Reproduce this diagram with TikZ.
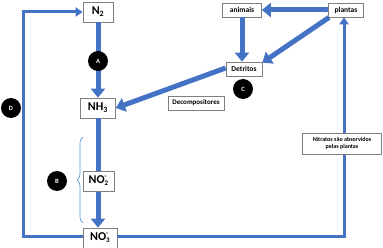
\documentclass[tikz,border=0pt]{standalone}
\usepackage{fontspec}
\setmainfont{Carlito}
\usetikzlibrary{arrows.meta,decorations.pathreplacing}
\definecolor{flow}{HTML}{4472C4}
\definecolor{bracecol}{HTML}{5B9BD5}
\definecolor{edge}{HTML}{7F7F7F}
\newcommand{\chemion}[2]{NO\makebox[0pt][l]{\raisebox{0.9ex}{\scriptsize -}}\raisebox{-0.35ex}{\scriptsize #1}#2}
\begin{document}
\begin{tikzpicture}[x=1pt,y=-1pt,
  box/.style={draw=edge,fill=white,line width=0.7pt,inner sep=0pt,font=\bfseries},
  chem/.style={box,minimum height=20pt,font=\bfseries\fontsize{12}{13}\selectfont},
  lab/.style={box,minimum height=14pt,font=\bfseries\fontsize{7.5}{8}\selectfont},
  tag/.style={circle,fill=black,text=white,minimum size=20pt,inner sep=0pt,font=\bfseries\fontsize{6.5}{7}\selectfont},
  bigarrow/.style={draw=flow,line width=5pt,-{Triangle[length=9pt,width=14pt]}},
  thinline/.style={draw=flow,line width=3pt},
  thinarrow/.style={thinline,-{Triangle[length=7pt,width=9pt]}},
]
\useasboundingbox (0,0) rectangle (383,248);
% nodes
\node[chem,minimum width=30pt] (n2) at (98,12) {N\textsubscript{2}};
\node[chem,minimum width=35pt] (nh3) at (98,108) {NH\textsubscript{3}};
\node[chem,minimum width=34pt] (no3) at (100,238) {\chemion{3}{}};
\node[lab,minimum width=39pt] (animais) at (242,10) {animais};
\node[lab,minimum width=35pt] (plantas) at (346,10) {plantas};
\node[lab,minimum width=36pt] (detritos) at (244,69) {Detritos};
% coordinates
\coordinate (tl) at (23,12);
\coordinate (bl) at (23,237);
\coordinate (br) at (344,237);
% connectors
\draw[bigarrow] (n2.south) -- (nh3.north);
\draw[bigarrow] (nh3.south) -- (nh3.south |- no3.north);
\draw[thinarrow] (no3.west |- bl) -- (bl) -- (tl) -- (n2.west);
\draw[thinarrow] (no3.east |- br) -- (br) -- (br |- plantas.south);
\draw[bigarrow] (plantas.west) -- (animais.east);
\draw[bigarrow] (animais.south) -- (animais.south |- detritos.north);
\draw[bigarrow] ([xshift=1pt]plantas.south west) -- ([yshift=-1pt]detritos.north east);
\draw[bigarrow] ([yshift=1pt]detritos.west) -- (nh3.east);
% nodes drawn over connectors
\node[chem,minimum width=31pt] (no2) at (98.5,181) {\chemion{2}{}};
\node[lab,minimum width=56pt,font=\bfseries\fontsize{7}{8}\selectfont] (decomp) at (196,103) {Decompositores};
\node[box,minimum width=79pt,minimum height=21pt,align=center,font=\bfseries\fontsize{6}{7}\selectfont] (nitratos) at (342,143.5) {Nitratos são absorvidos\\pelas plantas};
\node[tag] (A) at (98,61) {A};
\node[tag] (B) at (57,181) {B};
\node[tag] (C) at (243,89) {C};
\node[tag] (D) at (11,108) {D};
\draw[bracecol,line width=0.7pt,decorate,decoration={brace,amplitude=6pt}] (83,223) -- (83,137);
\end{tikzpicture}
\end{document}
